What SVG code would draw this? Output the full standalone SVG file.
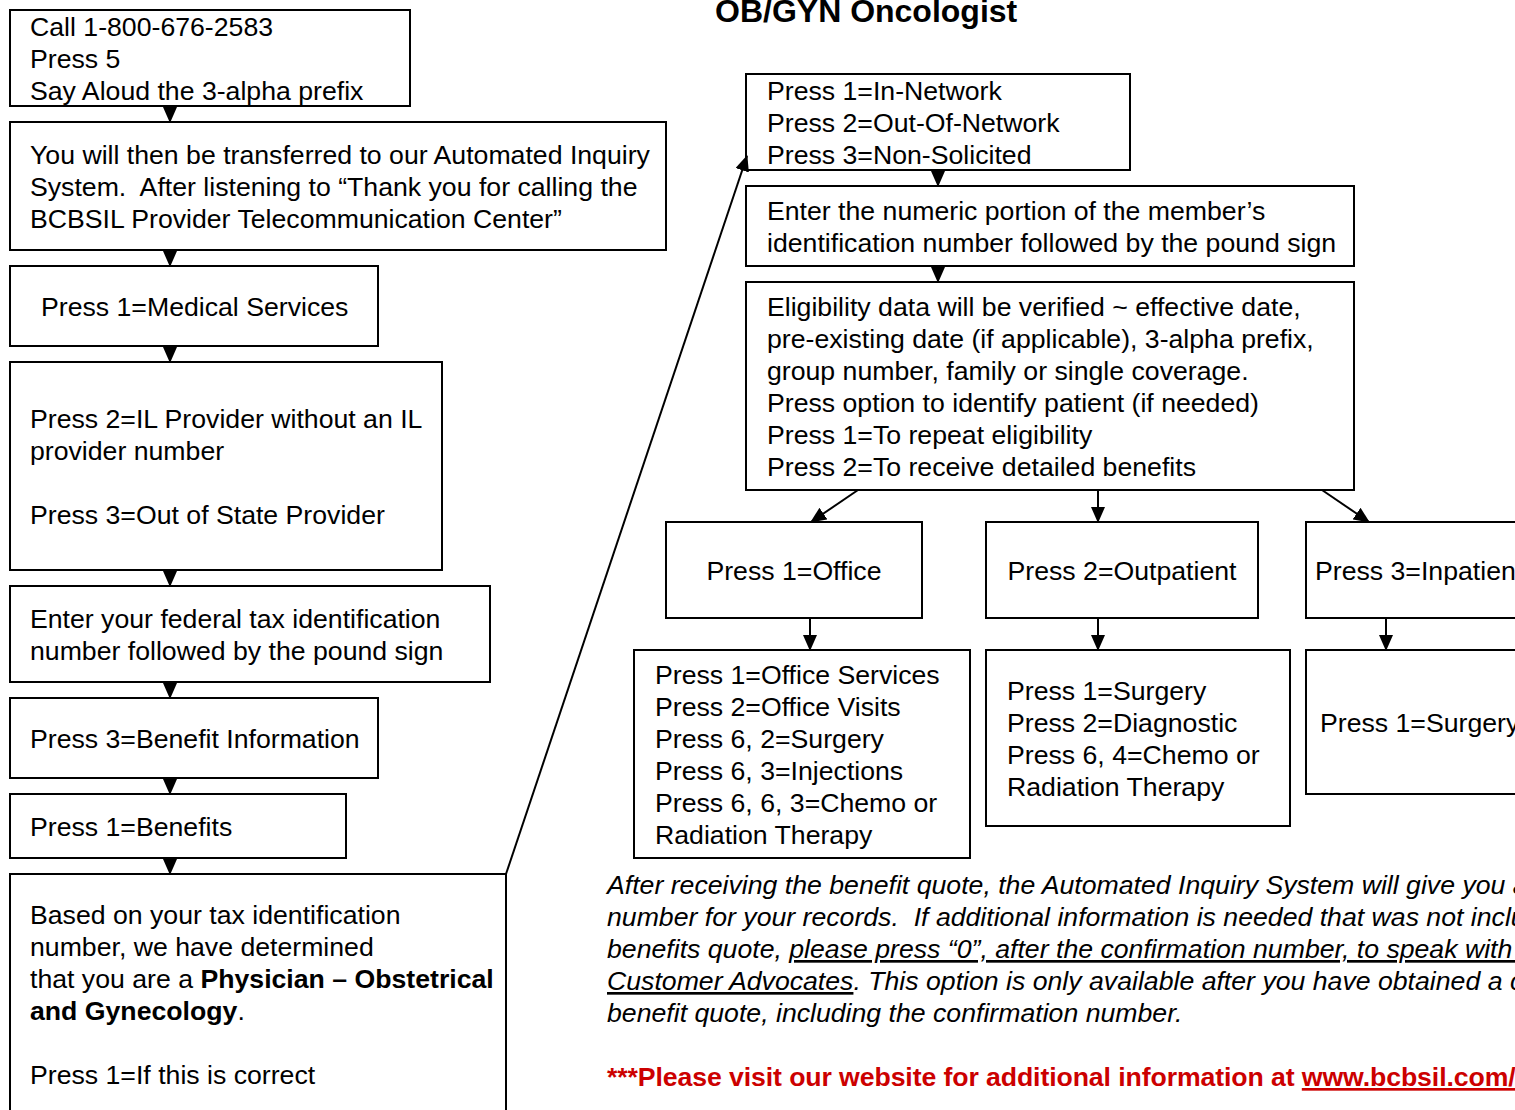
<svg xmlns="http://www.w3.org/2000/svg" width="1515" height="1110" viewBox="0 0 1515 1110">
<defs>
<style>
.box{fill:#fff;stroke:#000;stroke-width:2}
.t{font-family:"Liberation Sans",Arial,sans-serif;font-size:26.67px;fill:#000;white-space:pre}
.b{font-weight:bold}
.i{font-style:italic}
.c{stroke:#000;stroke-width:2;fill:none}
.red{fill:#cc0000;font-weight:bold}
</style>
<marker id="ah" markerUnits="userSpaceOnUse" markerWidth="16" markerHeight="14" refX="15" refY="7" orient="auto" viewBox="0 0 16 14">
<path d="M0,0 L16,7 L0,14 z" fill="#000"/>
</marker>
</defs>
<rect width="1515" height="1110" fill="#fff"/>

<text class="t b" x="715" y="22" style="font-size:32px">OB/GYN Oncologist</text>

<g id="n1"><rect class="box" x="10" y="10" width="400" height="96"/>
<text class="t"><tspan x="30" y="36">Call 1-800-676-2583</tspan><tspan x="30" y="68">Press 5</tspan><tspan x="30" y="100">Say Aloud the 3-alpha prefix</tspan></text></g>

<g id="n2"><rect class="box" x="10" y="122" width="656" height="128"/>
<text class="t"><tspan x="30" y="164">You will then be transferred to our Automated Inquiry</tspan><tspan x="30" y="196">System.  After listening to “Thank you for calling the</tspan><tspan x="30" y="228">BCBSIL Provider Telecommunication Center”</tspan></text></g>

<g id="n3"><rect class="box" x="10" y="266" width="368" height="80"/>
<text class="t" x="41" y="316">Press 1=Medical Services</text></g>

<g id="n4"><rect class="box" x="10" y="362" width="432" height="208"/>
<text class="t"><tspan x="30" y="428">Press 2=IL Provider without an IL</tspan><tspan x="30" y="460">provider number</tspan><tspan x="30" y="524">Press 3=Out of State Provider</tspan></text></g>

<g id="n5"><rect class="box" x="10" y="586" width="480" height="96"/>
<text class="t"><tspan x="30" y="628">Enter your federal tax identification</tspan><tspan x="30" y="660">number followed by the pound sign</tspan></text></g>

<g id="n6"><rect class="box" x="10" y="698" width="368" height="80"/>
<text class="t" x="30" y="748">Press 3=Benefit Information</text></g>

<g id="n7"><rect class="box" x="10" y="794" width="336" height="64"/>
<text class="t" x="30" y="836">Press 1=Benefits</text></g>

<g id="n8"><rect class="box" x="10" y="874" width="496" height="260"/>
<text class="t"><tspan x="30" y="924">Based on your tax identification</tspan><tspan x="30" y="956">number, we have determined</tspan><tspan x="30" y="988">that you are a <tspan class="b">Physician – Obstetrical</tspan></tspan><tspan x="30" y="1020"><tspan class="b">and Gynecology</tspan>.</tspan><tspan x="30" y="1084">Press 1=If this is correct</tspan></text></g>

<g id="r1"><rect class="box" x="746" y="74" width="384" height="96"/>
<text class="t"><tspan x="767" y="100">Press 1=In-Network</tspan><tspan x="767" y="132">Press 2=Out-Of-Network</tspan><tspan x="767" y="164">Press 3=Non-Solicited</tspan></text></g>

<g id="r2"><rect class="box" x="746" y="186" width="608" height="80"/>
<text class="t"><tspan x="767" y="220">Enter the numeric portion of the member’s</tspan><tspan x="767" y="252">identification number followed by the pound sign</tspan></text></g>

<g id="r3"><rect class="box" x="746" y="282" width="608" height="208"/>
<text class="t"><tspan x="767" y="316">Eligibility data will be verified ~ effective date,</tspan><tspan x="767" y="348">pre-existing date (if applicable), 3-alpha prefix,</tspan><tspan x="767" y="380">group number, family or single coverage.</tspan><tspan x="767" y="412">Press option to identify patient (if needed)</tspan><tspan x="767" y="444">Press 1=To repeat eligibility</tspan><tspan x="767" y="476">Press 2=To receive detailed benefits</tspan></text></g>

<g id="office"><rect class="box" x="666" y="522" width="256" height="96"/>
<text class="t" x="794" y="580" text-anchor="middle">Press 1=Office</text></g>

<g id="outpatient"><rect class="box" x="986" y="522" width="272" height="96"/>
<text class="t" x="1122" y="580" text-anchor="middle">Press 2=Outpatient</text></g>

<g id="inpatient"><rect class="box" x="1306" y="522" width="240" height="96"/>
<text class="t" x="1315" y="580">Press 3=Inpatient</text></g>

<g id="officeSub"><rect class="box" x="634" y="650" width="336" height="208"/>
<text class="t"><tspan x="655" y="684">Press 1=Office Services</tspan><tspan x="655" y="716">Press 2=Office Visits</tspan><tspan x="655" y="748">Press 6, 2=Surgery</tspan><tspan x="655" y="780">Press 6, 3=Injections</tspan><tspan x="655" y="812">Press 6, 6, 3=Chemo or</tspan><tspan x="655" y="844">Radiation Therapy</tspan></text></g>

<g id="outSub"><rect class="box" x="986" y="650" width="304" height="176"/>
<text class="t"><tspan x="1007" y="700">Press 1=Surgery</tspan><tspan x="1007" y="732">Press 2=Diagnostic</tspan><tspan x="1007" y="764">Press 6, 4=Chemo or</tspan><tspan x="1007" y="796">Radiation Therapy</tspan></text></g>

<g id="inSub"><rect class="box" x="1306" y="650" width="240" height="144"/>
<text class="t" x="1320" y="732">Press 1=Surgery</text></g>

<g id="note">
<text class="t i"><tspan x="607" y="894">After receiving the benefit quote, the Automated Inquiry System will give you a</tspan><tspan x="607" y="926">number for your records.  If additional information is needed that was not inclu</tspan><tspan x="607" y="958">benefits quote, <tspan text-decoration="underline">please press “0”, after the confirmation number, to speak with </tspan></tspan><tspan x="607" y="990"><tspan text-decoration="underline">Customer Advocates</tspan>. This option is only available after you have obtained a c</tspan><tspan x="607" y="1022">benefit quote, including the confirmation number.</tspan></text>
<text class="t red" x="607" y="1086" letter-spacing="-0.1">***Please visit our website for additional information at <tspan text-decoration="underline">www.bcbsil.com/</tspan></text>
</g>

<g id="connectors" class="c">
<line x1="170" y1="106" x2="170" y2="122" marker-end="url(#ah)"/>
<line x1="170" y1="250" x2="170" y2="266" marker-end="url(#ah)"/>
<line x1="170" y1="346" x2="170" y2="362" marker-end="url(#ah)"/>
<line x1="170" y1="570" x2="170" y2="586" marker-end="url(#ah)"/>
<line x1="170" y1="682" x2="170" y2="698" marker-end="url(#ah)"/>
<line x1="170" y1="778" x2="170" y2="794" marker-end="url(#ah)"/>
<line x1="170" y1="858" x2="170" y2="874" marker-end="url(#ah)"/>
<line x1="506" y1="874" x2="747" y2="156" marker-end="url(#ah)"/>
<line x1="938" y1="170" x2="938" y2="186" marker-end="url(#ah)"/>
<line x1="938" y1="266" x2="938" y2="282" marker-end="url(#ah)"/>
<line x1="858" y1="490" x2="811" y2="522" marker-end="url(#ah)"/>
<line x1="1098" y1="490" x2="1098" y2="522" marker-end="url(#ah)"/>
<line x1="1322" y1="490" x2="1369" y2="522" marker-end="url(#ah)"/>
<line x1="810" y1="618" x2="810" y2="650" marker-end="url(#ah)"/>
<line x1="1098" y1="618" x2="1098" y2="650" marker-end="url(#ah)"/>
<line x1="1386" y1="618" x2="1386" y2="650" marker-end="url(#ah)"/>
</g>
</svg>
